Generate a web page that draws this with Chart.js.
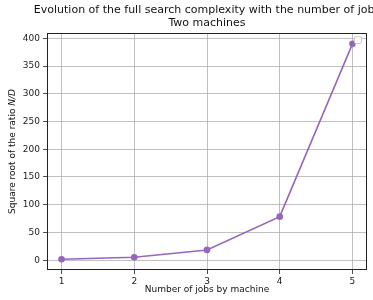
<!DOCTYPE html>
<html><head><meta charset="utf-8">
<script src="https://cdn.jsdelivr.net/npm/chart.js@4"></script>
<style>html,body{margin:0;padding:0;background:#fff}#wrap{width:373px;height:300px}</style>
</head><body><div id="wrap"><canvas id="c" width="373" height="300"></canvas></div>
<script>
const jobs = [1, 2, 3, 4, 5];
const sqrtRatio = [1.8, 5.3, 18.5, 78.5, 390];
const xTicks = [1, 2, 3, 4, 5];
const yTicks = [0, 50, 100, 150, 200, 250, 300, 350, 400];
const titleLines = ["Evolution of the full search complexity with the number of jobs", "Two machines"];
const xLabel = "Number of jobs by machine";

const FONT = "'DejaVu Sans', sans-serif";

const deco = {
  id: 'deco',
  afterDraw(chart) {
    const ctx = chart.ctx, a = chart.chartArea;
    ctx.save();
    // frame
    ctx.strokeStyle = '#222'; ctx.lineWidth = 1;
    ctx.strokeRect(a.left + 0.5, a.top + 0.5, a.right - a.left - 1, a.bottom - a.top - 1);
    // empty legend box
    ctx.strokeStyle = '#ccc'; ctx.fillStyle = 'rgba(255,255,255,0.8)';
    ctx.beginPath(); ctx.roundRect(a.right - 12.5, a.top + 3.5, 7, 7, 1.5); ctx.fill(); ctx.stroke();
    // title
    const cx = (a.left + a.right) / 2;
    ctx.fillStyle = '#111'; ctx.font = "11px " + FONT;
    ctx.textAlign = 'center'; ctx.textBaseline = 'middle';
    ctx.fillText(titleLines[0], cx, 10);
    ctx.fillText(titleLines[1], cx, 23);
    // y label with italic N/D
    ctx.translate(13, (a.top + a.bottom) / 2);
    ctx.rotate(-Math.PI / 2);
    const p1 = "Square root of the ratio ", p2 = "N/D";
    ctx.font = "9px " + FONT;
    const w1 = ctx.measureText(p1).width;
    ctx.font = "italic 9px " + FONT;
    const w2 = ctx.measureText(p2).width;
    let x0 = -(w1 + w2) / 2;
    ctx.textAlign = 'left';
    ctx.font = "9px " + FONT;
    ctx.fillText(p1, x0, 0);
    ctx.font = "italic 9px " + FONT;
    ctx.fillText(p2, x0 + w1, 0);
    ctx.restore();
  }
};

new Chart(document.getElementById('c'), {
  type: 'line',
  data: {
    datasets: [{
      data: jobs.map((j, i) => ({x: j, y: sqrtRatio[i]})),
      borderColor: '#9467bd', backgroundColor: '#9467bd',
      borderWidth: 1.6, pointRadius: 3.3, pointHoverRadius: 3.3, pointBorderWidth: 0,
      tension: 0
    }]
  },
  options: {
    responsive: false, animation: false, events: [],
    layout: {padding: {top: 33, right: 6, left: 0, bottom: 0}},
    plugins: {legend: {display: false}, tooltip: {enabled: false}, title: {display: false}},
    scales: {
      x: {
        type: 'linear', min: 0.8, max: 5.2,
        afterBuildTicks: s => { s.ticks = xTicks.map(v => ({value: v})); },
        afterFit: s => { s.height = 30; },
        grid: {color: '#b0b0b0', tickColor: '#222', tickLength: 4, lineWidth: 0.8},
        border: {display: false},
        ticks: {color: '#222', font: {family: FONT, size: 9}, padding: 2, maxRotation: 0},
        title: {display: true, text: xLabel, color: '#111', font: {family: FONT, size: 9}, padding: {top: 0, bottom: 5}}
      },
      y: {
        type: 'linear', min: -17.7, max: 409.6,
        afterBuildTicks: s => { s.ticks = yTicks.map(v => ({value: v})); },
        afterFit: s => { s.width = 47; },
        grid: {color: '#b0b0b0', tickColor: '#222', tickLength: 4, lineWidth: 0.8},
        border: {display: false},
        ticks: {color: '#222', font: {family: FONT, size: 9}, padding: 3}
      }
    }
  },
  plugins: [deco]
});
</script></body></html>
